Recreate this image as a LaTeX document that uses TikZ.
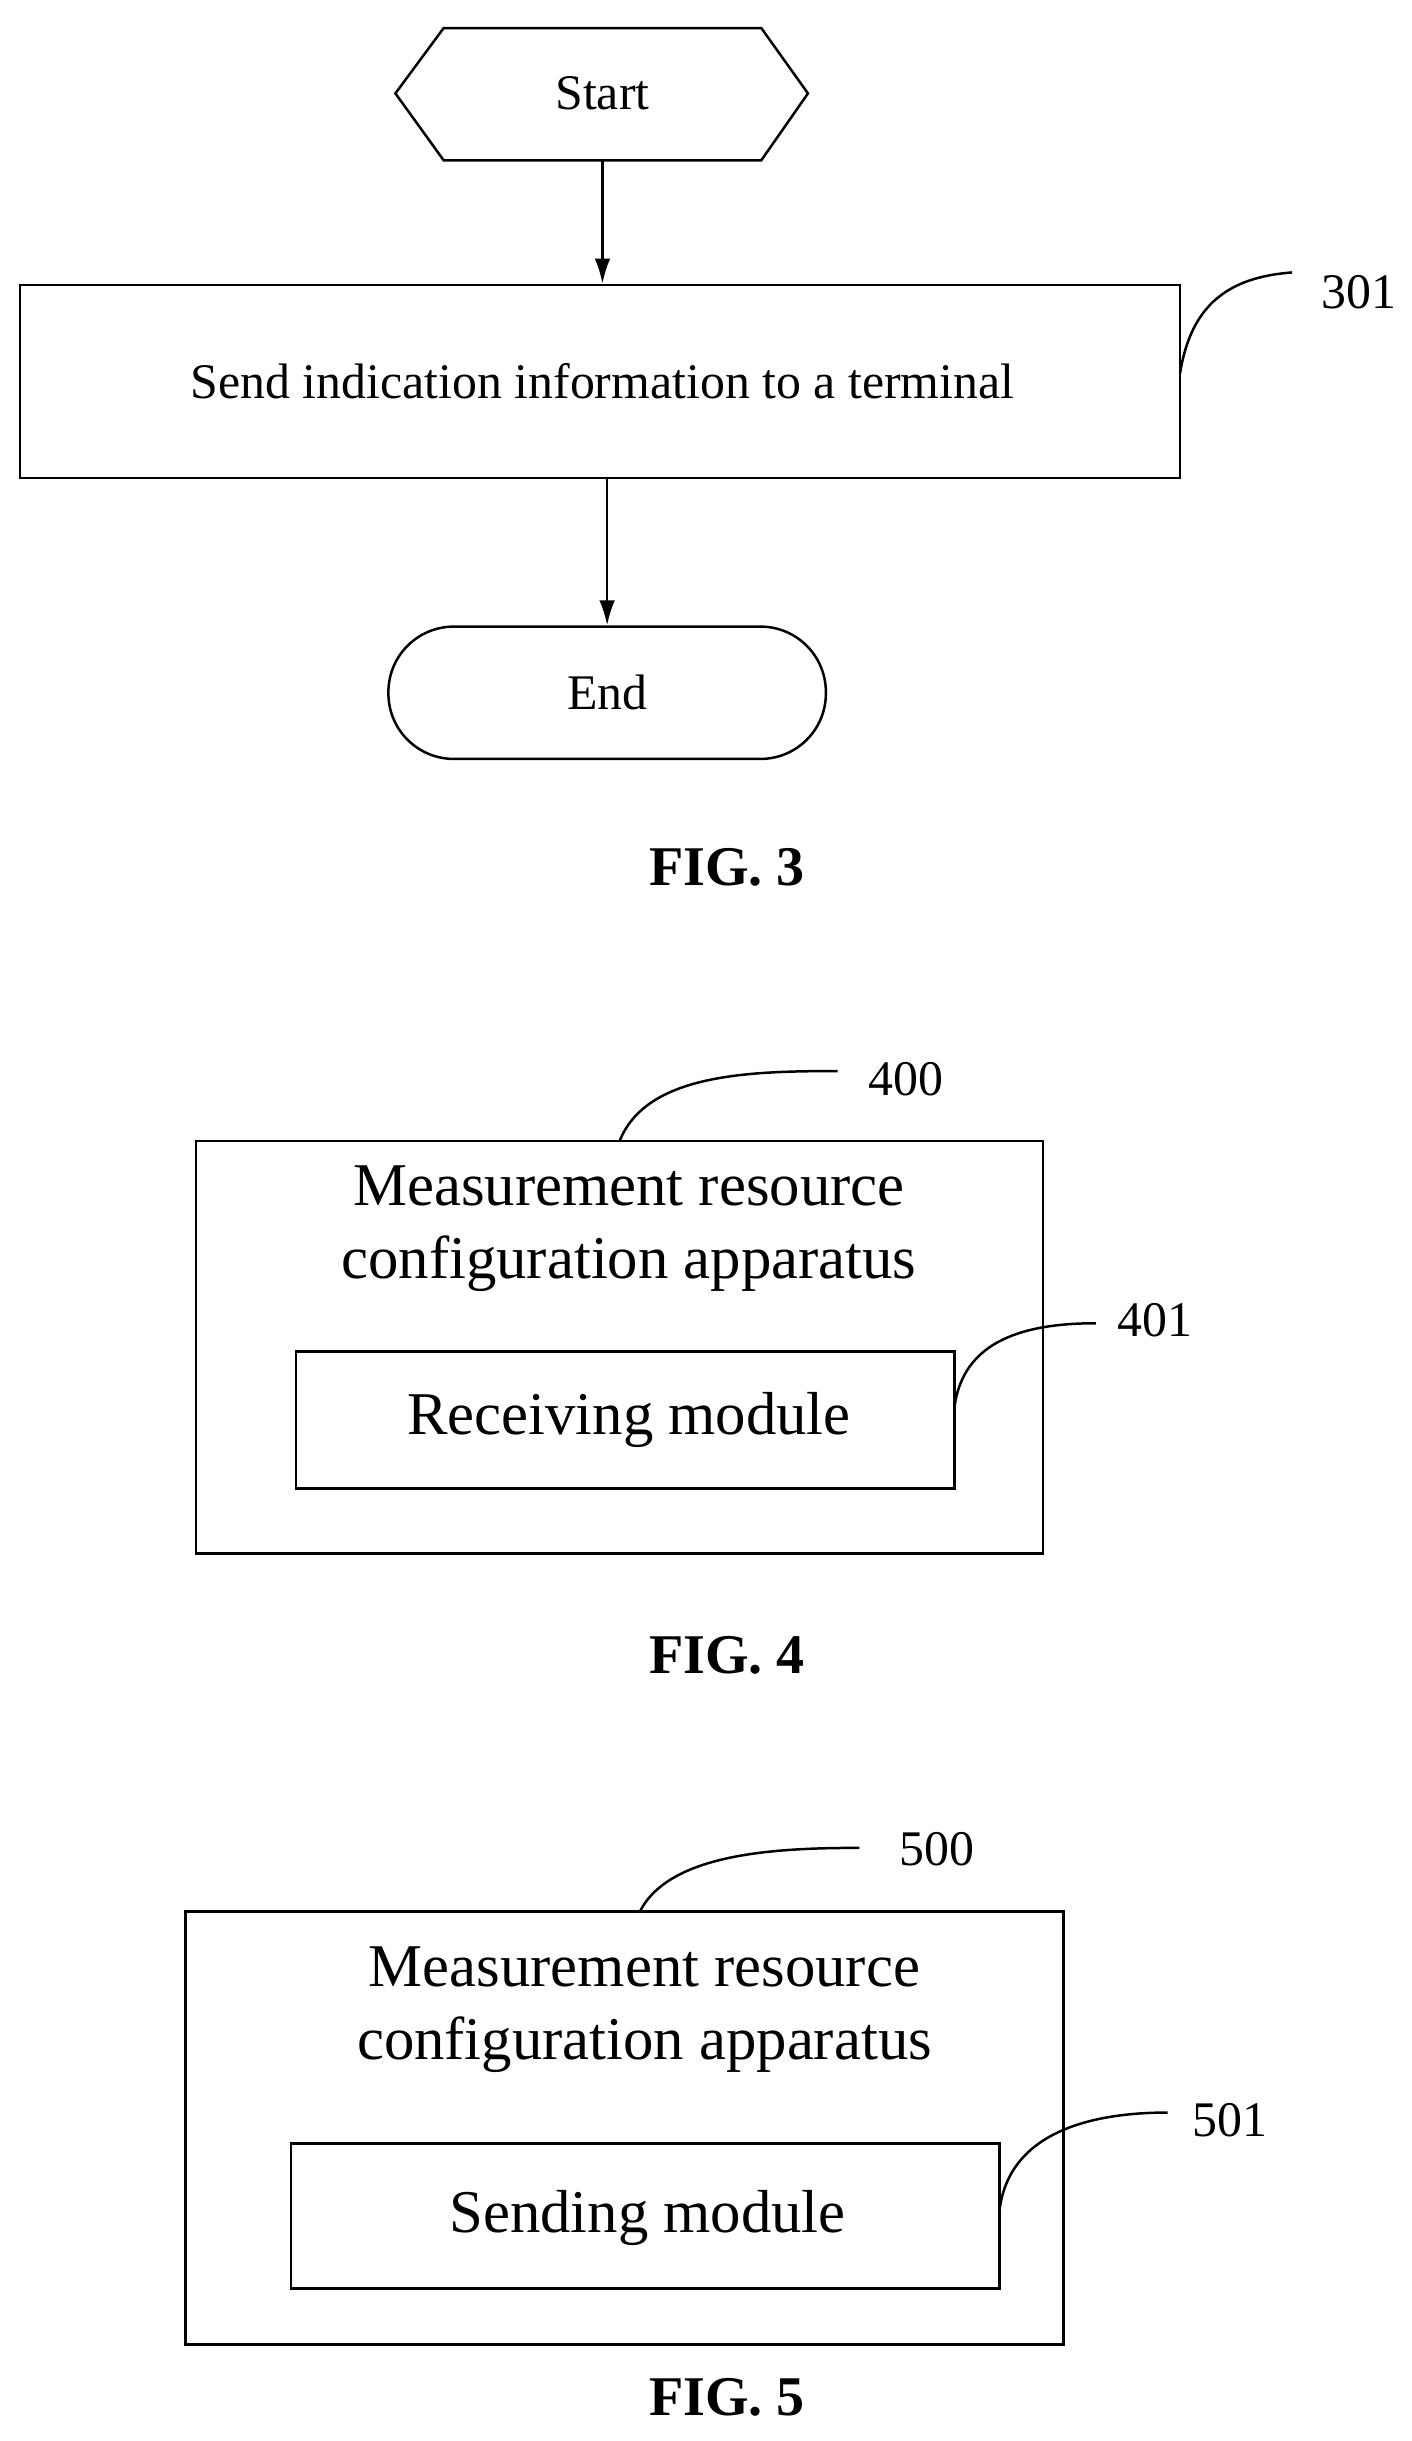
\documentclass[tikz,border=0pt]{standalone}
\usepackage{fontspec}
\usetikzlibrary{arrows.meta}
\setmainfont{Liberation Serif}
\begin{document}
\begin{tikzpicture}[x=1pt,y=-1pt,line width=1.6pt,
 sm/.style={font=\fontsize{32}{38}\selectfont},
 bg/.style={font=\fontsize{39}{47}\selectfont},
 lb/.style={font=\fontsize{32}{38}\selectfont},
 fg/.style={font=\fontsize{36}{42}\selectfont\bfseries},
 ar/.style={-{Latex[length=16pt,width=10pt]}},
 box/.style={draw,rectangle,inner sep=0pt}]
\useasboundingbox (0,0) rectangle (907,1568);
% FIG 3
\draw (254,60)--(285,18)--(489,18)--(519,60)--(489,103)--(285,103)--cycle;
\node[sm] (start) at (387,60) {Start};
\coordinate (s1) at (387,103);
\node[box,minimum width=745pt,minimum height=124pt] (b301) at (385.5,245) {};
\node[sm] at (387,245) {Send indication information to a terminal};
\draw[ar] (s1) -- (b301.north -| s1);
\node[draw,rounded corners=42pt,minimum width=281pt,minimum height=85pt] (end) at (390,445) {};
\node[sm] at (390,445) {End};
\draw[ar] (b301.south -| end) -- (end.north);
\node[lb] (l301) at (873,188) {301};
\draw (758,240) .. controls (765,195) and (790,178) .. (830,175);
\node[fg] (f3) at (467,557) {FIG. 3};
% FIG 4
\node[box,minimum width=544pt,minimum height=265pt] (b400) at (398,865.5) {};
\node[bg,align=center] (t400) at (404,789) {Measurement resource\\configuration apparatus};
\node[box,minimum width=423pt,minimum height=88pt] (b401) at (401.5,912) {};
\node[bg] at (404,912) {Receiving module};
\node[lb] (l400) at (582,693) {400};
\draw (398,733) .. controls (415,690) and (480,688) .. (538,688);
\node[lb] (l401) at (742,848) {401};
\draw (613,905) .. controls (618,860) and (660,850) .. (704,850);
\node[fg] (f4) at (467,1063) {FIG. 4};
% FIG 5
\node[box,minimum width=564pt,minimum height=278pt] (b500) at (401,1367) {};
\node[bg,align=center] (t500) at (414,1291) {Measurement resource\\configuration apparatus};
\node[box,minimum width=455pt,minimum height=93pt] (b501) at (414.5,1423.5) {};
\node[bg] at (416,1425) {Sending module};
\node[lb] (l500) at (602,1188) {500};
\draw (411,1228) .. controls (430,1190) and (500,1187) .. (552,1187);
\node[lb] (l501) at (790,1362) {501};
\draw (642,1420) .. controls (648,1370) and (700,1357) .. (750,1357);
\node[fg] (f5) at (467,1540) {FIG. 5};
\end{tikzpicture}
\end{document}
